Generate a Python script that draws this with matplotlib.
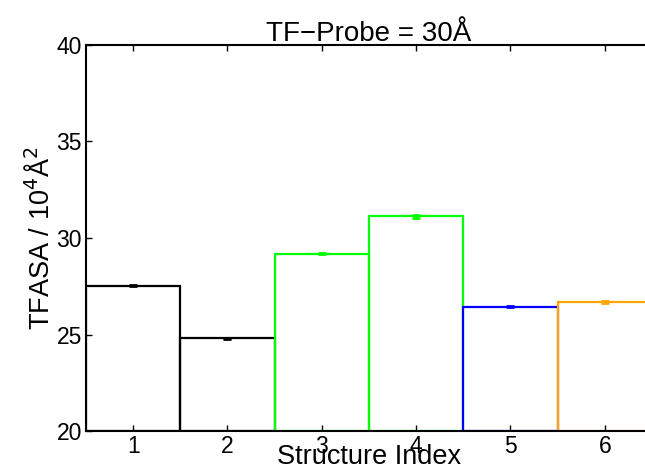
import numpy as np
import matplotlib.pyplot as plt

plt.rcParams['font.family'] = ['Liberation Sans', 'DejaVu Sans']

# data
structures = [1, 2, 3, 4, 5, 6]
tfasa = [27.52, 24.80, 29.18, 31.12, 26.45, 26.68]
errors = [0.02, 0.03, 0.02, 0.07, 0.03, 0.04]
colors = ['black', 'black', '#00ff00', '#00ff00', '#0000ff', '#ffa500']

fig = plt.figure(figsize=(6.45, 4.75), dpi=100)
ax = fig.add_axes([0.1333, 0.0926, 0.8775, 0.8127])

for x, v, e, c in zip(structures, tfasa, errors, colors):
    ax.bar(x, v - 20, bottom=20, width=1.0, fill=False, edgecolor=c, linewidth=1.6)
    ax.errorbar(x, v, yerr=e, color=c, capsize=3, capthick=2, elinewidth=2)

ax.set_xlim(0.5, 6.5)
ax.set_ylim(20, 40)
ax.set_xticks(structures)
ax.set_yticks([20, 25, 30, 35, 40])
ax.tick_params(direction='in', top=True, right=False, labelsize=16.5, length=4, width=1, pad=3)
ax.spines['right'].set_visible(False)
for s in ['left', 'top', 'bottom']:
    ax.spines[s].set_linewidth(1.5)

ax.set_title("TF\u2212Probe = 30\u00c5", fontsize=20, pad=3)
ax.set_xlabel("Structure Index", fontsize=19.5, labelpad=-10)
ax.set_ylabel("TFASA / 10$^4$\u00c5$^2$", fontsize=19.5, labelpad=1)

plt.savefig("out.png", dpi=100)
